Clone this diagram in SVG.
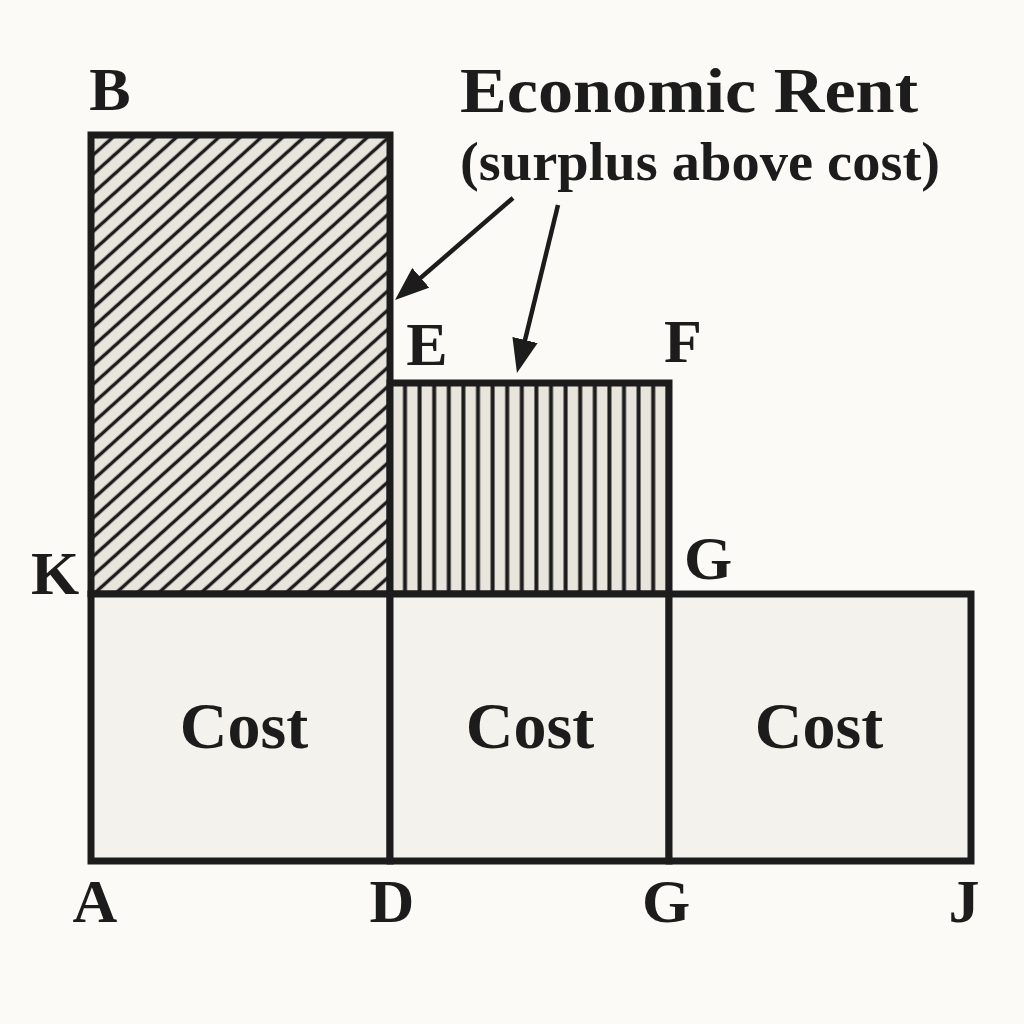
<svg xmlns="http://www.w3.org/2000/svg" width="1024" height="1024" viewBox="0 0 1024 1024">
  <style>
    .lbl { font-family: "Liberation Serif", "Times New Roman", serif; font-weight: bold; fill: #1c1c1c; }
    .box { stroke: #1c1c1c; stroke-width: 7; fill: none; stroke-linejoin: miter; }
    .cost { fill: #f4f2ec; }
    .arrow { stroke: #1c1c1c; stroke-width: 4.5; fill: none; marker-end: url(#ah); }
  </style>
  <defs>
    <pattern id="diag" patternUnits="userSpaceOnUse" width="20" height="14.2" patternTransform="rotate(-42)">
      <rect width="20" height="14.2" fill="#e8e5dd"/>
      <line x1="0" y1="7.1" x2="20" y2="7.1" stroke="#1c1c1c" stroke-width="3.4"/>
    </pattern>
    <pattern id="vert" patternUnits="userSpaceOnUse" x="397.7" y="0" width="14.6" height="20">
      <rect width="14.6" height="20" fill="#e8e5dd"/>
      <line x1="7.3" y1="0" x2="7.3" y2="20" stroke="#1c1c1c" stroke-width="4"/>
    </pattern>
    <marker id="ah" viewBox="0 0 34 26" refX="17" refY="13" markerWidth="34" markerHeight="26" orient="auto" markerUnits="userSpaceOnUse">
      <path d="M0,0 L34,13 L0,26 z" fill="#1c1c1c"/>
    </marker>
  </defs>
  <rect width="1024" height="1024" fill="#fbfaf6"/>

  <g id="rent-B">
    <rect x="91" y="135" width="299" height="459" fill="url(#diag)"/>
    <rect class="box" x="91" y="135" width="299" height="459"/>
  </g>
  <g id="rent-E">
    <rect x="390" y="383" width="279" height="211" fill="url(#vert)"/>
    <rect class="box" x="390" y="383" width="279" height="211"/>
  </g>
  <g id="cost-1">
    <rect class="cost" x="91" y="594" width="299" height="267"/>
    <rect class="box" x="91" y="594" width="299" height="267"/>
    <text class="lbl" x="244" y="748" font-size="66" text-anchor="middle">Cost</text>
  </g>
  <g id="cost-2">
    <rect class="cost" x="390" y="594" width="279" height="267"/>
    <rect class="box" x="390" y="594" width="279" height="267"/>
    <text class="lbl" x="530" y="748" font-size="66" text-anchor="middle">Cost</text>
  </g>
  <g id="cost-3">
    <rect class="cost" x="669" y="594" width="302" height="267"/>
    <rect class="box" x="669" y="594" width="302" height="267"/>
    <text class="lbl" x="819" y="748" font-size="66" text-anchor="middle">Cost</text>
  </g>

  <g id="title">
    <text class="lbl" x="460" y="112" font-size="64" textLength="458" lengthAdjust="spacingAndGlyphs">Economic Rent</text>
    <text class="lbl" x="460" y="180" font-size="55" textLength="480" lengthAdjust="spacingAndGlyphs">(surplus above cost)</text>
  </g>

  <g id="connectors">
    <line class="arrow" x1="513" y1="198" x2="407.9" y2="288.9"/>
    <line class="arrow" x1="558" y1="205" x2="521.0" y2="356.5"/>
  </g>

  <g id="labels" font-size="62">
    <text class="lbl" x="110" y="110" text-anchor="middle">B</text>
    <text class="lbl" x="55" y="594" text-anchor="middle">K</text>
    <text class="lbl" x="95" y="922" text-anchor="middle">A</text>
    <text class="lbl" x="392" y="922" text-anchor="middle">D</text>
    <text class="lbl" x="666" y="922" text-anchor="middle">G</text>
    <text class="lbl" x="964" y="922" text-anchor="middle">J</text>
    <text class="lbl" x="427" y="365" text-anchor="middle">E</text>
    <text class="lbl" x="683" y="362" text-anchor="middle">F</text>
    <text class="lbl" x="708" y="579" text-anchor="middle">G</text>
  </g>
</svg>
